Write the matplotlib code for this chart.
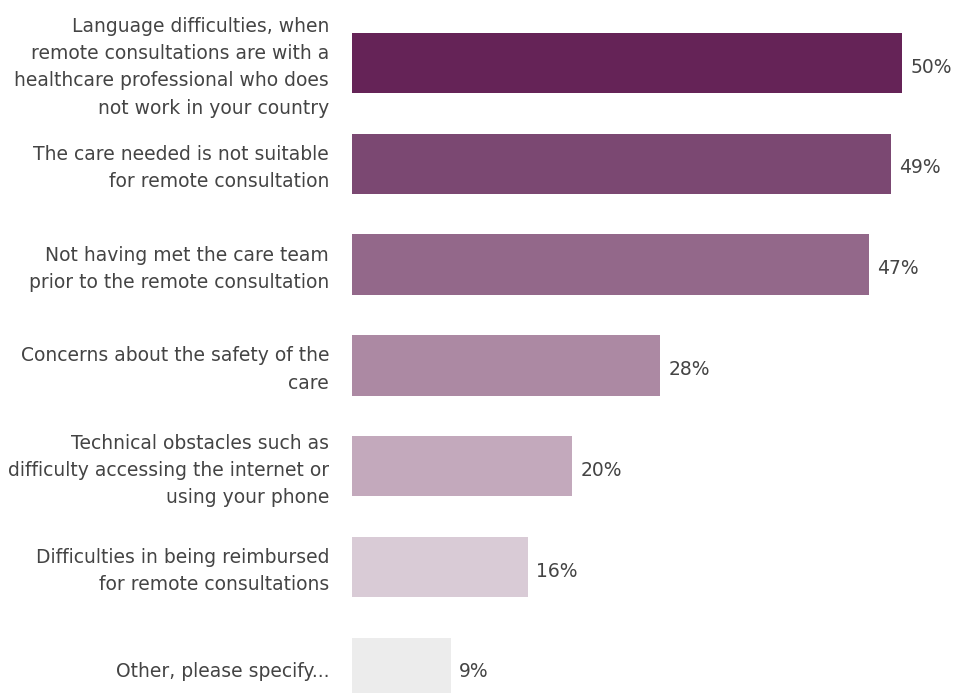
import matplotlib.pyplot as plt

labels = [
    "Language difficulties, when\nremote consultations are with a\nhealthcare professional who does\nnot work in your country",
    "The care needed is not suitable\nfor remote consultation",
    "Not having met the care team\nprior to the remote consultation",
    "Concerns about the safety of the\ncare",
    "Technical obstacles such as\ndifficulty accessing the internet or\nusing your phone",
    "Difficulties in being reimbursed\nfor remote consultations",
    "Other, please specify...",
]
values = [50, 49, 47, 28, 20, 16, 9]
colors = ["#652357", "#7b4872", "#93688a", "#ac89a3", "#c3a9bc", "#d9cbd6", "#ececec"]

plt.rcParams['font.family'] = ['DejaVu Sans']
text_color = "#444444"
fsize = 13.5

fig = plt.figure(figsize=(9.54, 6.93), dpi=100)
left = 352 / 954
ax = fig.add_axes([left, 0, 1 - left, 1])

pos = list(range(len(values)))
ax.barh(pos, values, height=0.6, color=colors)

# value labels to the right of each bar
for p, v in zip(pos, values):
    ax.annotate(f"{v}%", (v, p), xytext=(6, -3), textcoords="offset points",
                va="center", ha="left", fontsize=fsize, color=text_color)

# category labels, right aligned left of the bars
for p, lab in zip(pos, labels):
    ax.annotate(lab, (0, p), xycoords=("axes fraction", "data"),
                xytext=(-16.5, -3), textcoords="offset points",
                va="center", ha="right", multialignment="right",
                fontsize=fsize, color=text_color, linespacing=1.55,
                annotation_clip=False)

ax.set_yticks([])
ax.set_xticks([])
ax.set_xlim(0, (954 - 352) / 11)
ax.set_ylim(6.25, -0.625)
for s in ax.spines.values():
    s.set_visible(False)

fig.savefig("out.png", dpi=100)
